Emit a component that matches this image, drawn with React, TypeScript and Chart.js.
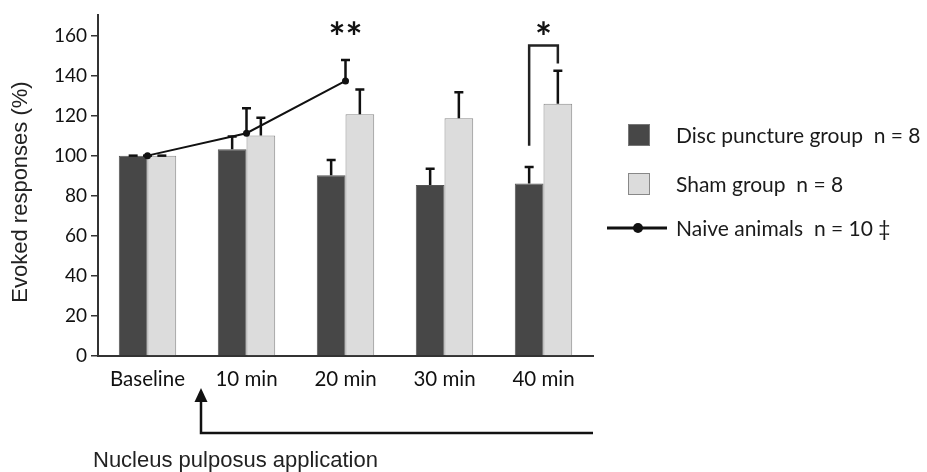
import React, { useEffect, useRef } from "react";
import { Chart, registerables } from "chart.js";

Chart.register(...registerables);

const categories = ["Baseline", "10 min", "20 min", "30 min", "40 min"];
const discValues = [100, 103.2, 90.2, 85.3, 86.1];
const discErr = [0, 6.4, 7.6, 8.1, 8.2];
const shamValues = [100, 110.1, 120.7, 118.7, 125.9];
const shamErr = [0, 8.8, 12.3, 12.9, 16.5];
const naiveValues = [100, 111.2, 137.3, null, null];
const naiveErr = [0, 12.4, 10.4, null, null];
const yTicks = [0, 20, 40, 60, 80, 100, 120, 140, 160];
const yMax = 170;

const legendItems = ["Disc puncture group  n = 8", "Sham group  n = 8", "Naive animals  n = 10 \u2021"];
const yTitle = "Evoked responses (%)";
const bottomNote = "Nucleus pulposus application";
// significance marks: [category index, label]
const sigMarks = [
  { cat: 2, label: "**", bracket: false },
  { cat: 4, label: "*", bracket: true },
];
const bracketTop = 155;
const bracketLeftBottom = 105;
const bracketRightBottom = 146;

const DARK = "#474747";
const LIGHT = "#dcdcdc";
const INK = "#111111";
const CAL = "Lato, 'Open Sans', sans-serif";
const ARIAL = "'Liberation Sans', Arial, sans-serif";

const overlayPlugin = {
  id: "overlay",
  afterDatasetsDraw(chart: any) {
    const ctx = chart.ctx;
    const ys = chart.scales.y;
    const drawErr = (x: number, v: number | null, e: number | null) => {
      if (v == null || e == null) return;
      const y0 = ys.getPixelForValue(v);
      const y1 = ys.getPixelForValue(v + e);
      ctx.save();
      ctx.strokeStyle = INK;
      ctx.lineWidth = 2.5;
      ctx.beginPath();
      ctx.moveTo(x, y0);
      ctx.lineTo(x, y1);
      ctx.moveTo(x - 4.5, y1);
      ctx.lineTo(x + 4.5, y1);
      ctx.stroke();
      ctx.restore();
    };
    const disc = chart.getDatasetMeta(1).data;
    const sham = chart.getDatasetMeta(2).data;
    const naive = chart.getDatasetMeta(0).data;
    categories.forEach((_, i) => {
      drawErr(disc[i].x, discValues[i], discErr[i]);
      drawErr(sham[i].x, shamValues[i], shamErr[i]);
      if (naiveValues[i] != null) drawErr(naive[i].x, naiveValues[i], naiveErr[i]);
    });
  },
  afterDraw(chart: any) {
    const ctx = chart.ctx;
    const ys = chart.scales.y;
    const xs = chart.scales.x;
    const area = chart.chartArea;
    const disc = chart.getDatasetMeta(1).data;
    const sham = chart.getDatasetMeta(2).data;
    ctx.save();

    // y-axis title
    ctx.save();
    ctx.translate(21, 192);
    ctx.rotate(-Math.PI / 2);
    ctx.fillStyle = "#222";
    ctx.font = `22px ${ARIAL}`;
    ctx.textAlign = "center";
    ctx.textBaseline = "middle";
    ctx.fillText(yTitle, 0, 0);
    ctx.restore();

    // significance marks
    sigMarks.forEach((m) => {
      const cx = m.bracket ? (disc[m.cat].x + sham[m.cat].x) / 2 : xs.getPixelForValue(m.cat);
      ctx.fillStyle = INK;
      ctx.font = `bold 40px ${CAL}`;
      ctx.textAlign = "center";
      ctx.textBaseline = "alphabetic";
      ctx.fillText(m.label, cx, 52);
      if (m.bracket) {
        const lx = disc[m.cat].x;
        const rx = sham[m.cat].x;
        ctx.strokeStyle = "#222";
        ctx.lineWidth = 2.5;
        ctx.beginPath();
        ctx.moveTo(lx, ys.getPixelForValue(bracketLeftBottom));
        ctx.lineTo(lx, ys.getPixelForValue(bracketTop));
        ctx.lineTo(rx, ys.getPixelForValue(bracketTop));
        ctx.lineTo(rx, ys.getPixelForValue(bracketRightBottom));
        ctx.stroke();
      }
    });

    // legend
    const lx = 628;
    const tx = 676;
    const rows = [135, 184, 228];
    ctx.font = `21px ${CAL}`;
    ctx.textAlign = "left";
    ctx.textBaseline = "middle";
    ctx.lineWidth = 1;
    ctx.fillStyle = DARK;
    ctx.fillRect(lx, rows[0] - 11, 22, 22);
    ctx.strokeStyle = "#777";
    ctx.strokeRect(lx + 0.5, rows[0] - 10.5, 21, 21);
    ctx.fillStyle = LIGHT;
    ctx.fillRect(lx, rows[1] - 11, 22, 22);
    ctx.strokeStyle = "#888";
    ctx.strokeRect(lx + 0.5, rows[1] - 10.5, 21, 21);
    ctx.strokeStyle = INK;
    ctx.lineWidth = 3;
    ctx.beginPath();
    ctx.moveTo(607, rows[2]);
    ctx.lineTo(667, rows[2]);
    ctx.stroke();
    ctx.fillStyle = INK;
    ctx.beginPath();
    ctx.arc(638, rows[2], 5, 0, Math.PI * 2);
    ctx.fill();
    ctx.fillStyle = "#1a1a1a";
    legendItems.forEach((t, i) => ctx.fillText(t, tx, rows[i] + 1));

    // arrow for application
    const ax = (xs.getPixelForValue(0) + xs.getPixelForValue(1)) / 2 + 4;
    ctx.strokeStyle = INK;
    ctx.fillStyle = INK;
    ctx.lineWidth = 2.5;
    ctx.beginPath();
    ctx.moveTo(ax, 400);
    ctx.lineTo(ax, 433);
    ctx.lineTo(area.right, 433);
    ctx.stroke();
    ctx.beginPath();
    ctx.moveTo(ax, 388);
    ctx.lineTo(ax - 6.5, 402);
    ctx.lineTo(ax + 6.5, 402);
    ctx.closePath();
    ctx.fill();

    ctx.fillStyle = "#222";
    ctx.font = `22px ${ARIAL}`;
    ctx.textAlign = "left";
    ctx.textBaseline = "alphabetic";
    ctx.fillText(bottomNote, 93, 467);

    ctx.restore();
  },
};

export default function App() {
  const ref = useRef<HTMLCanvasElement | null>(null);
  useEffect(() => {
    if (!ref.current) return;
    const chart = new Chart(ref.current, {
      type: "bar",
      data: {
        labels: categories,
        datasets: [
          {
            type: "line",
            label: legendItems[2],
            data: naiveValues,
            borderColor: INK,
            backgroundColor: INK,
            borderWidth: 2,
            pointRadius: 3.5,
            pointBackgroundColor: INK,
            pointBorderWidth: 0,
            tension: 0,
            spanGaps: false,
            order: 0,
          } as any,
          {
            type: "bar",
            label: legendItems[0],
            data: discValues,
            backgroundColor: DARK,
            borderColor: "#555",
            borderWidth: 1,
            barPercentage: 1,
            categoryPercentage: 0.58,
            order: 1,
          },
          {
            type: "bar",
            label: legendItems[1],
            data: shamValues,
            backgroundColor: LIGHT,
            borderColor: "#8a8a8a",
            borderWidth: 1,
            barPercentage: 1,
            categoryPercentage: 0.58,
            order: 1,
          },
        ],
      },
      options: {
        responsive: false,
        animation: false,
        events: [],
        layout: { padding: { left: 0, right: 927 - 593, top: 10, bottom: 0 } },
        plugins: { legend: { display: false }, tooltip: { enabled: false } },
        scales: {
          x: {
            grid: { display: true, drawOnChartArea: false, drawTicks: false, color: "#333" },
            border: { display: true, color: "#333", width: 2 },
            ticks: { color: "#111", font: { family: CAL, size: 20.5 }, padding: 11, maxRotation: 0 },
            afterFit: (s: any) => {
              s.height = 116;
            },
          },
          y: {
            min: 0,
            max: yMax,
            grid: { display: true, drawOnChartArea: false, drawTicks: true, tickLength: 7, color: "#333", lineWidth: 1.5 },
            border: { display: true, color: "#333", width: 2 },
            ticks: { color: "#111", font: { family: CAL, size: 19 }, padding: 4 },
            afterBuildTicks: (s: any) => {
              s.ticks = yTicks.map((v) => ({ value: v }));
            },
            afterFit: (s: any) => {
              s.width = 98;
            },
          },
        },
      },
      plugins: [overlayPlugin],
    });
    return () => chart.destroy();
  }, []);
  return (
    <div style={{ position: "absolute", left: 0, top: 0, width: 927, height: 472, background: "#fff" }}>
      <canvas ref={ref} width={927} height={472} style={{ display: "block" }} />
    </div>
  );
}
